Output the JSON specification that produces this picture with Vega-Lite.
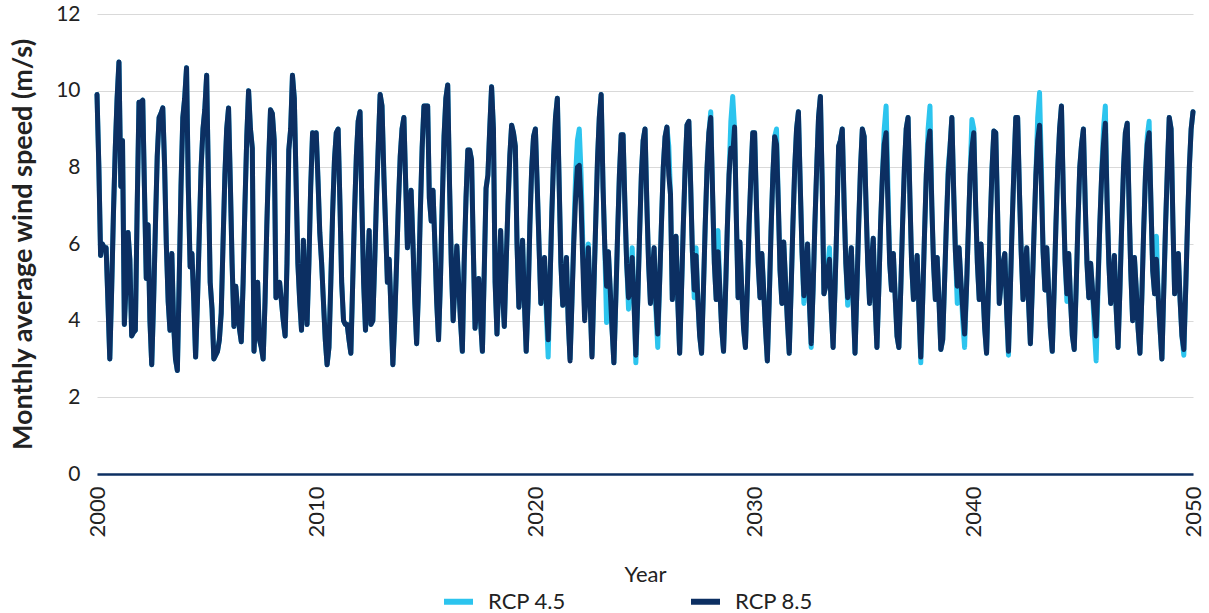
{
"$schema":"https://vega.github.io/schema/vega-lite/v6.json",
"width":1096,"height":460,
"autosize":{"type":"none"},
"padding":{"left":97,"top":14,"right":16,"bottom":139},
"background":"white",
"config":{"view":{"stroke":null},"font":"Lato"},
"data":{"values":[
{"date":"2000-01","rcp45":9.9,"rcp85":9.9},{"date":"2000-02","rcp45":8.0,"rcp85":8.0},{"date":"2000-03","rcp45":5.7,"rcp85":5.7},{"date":"2000-04","rcp45":6.0,"rcp85":6.0},{"date":"2000-05","rcp45":5.9,"rcp85":5.9},{"date":"2000-06","rcp45":5.9,"rcp85":5.9},{"date":"2000-07","rcp45":4.5,"rcp85":4.5},{"date":"2000-08","rcp45":3.0,"rcp85":3.0},{"date":"2000-09","rcp45":4.8,"rcp85":4.8},{"date":"2000-10","rcp45":6.8,"rcp85":6.8},{"date":"2000-11","rcp45":8.5,"rcp85":8.5},{"date":"2000-12","rcp45":9.8,"rcp85":9.8},
{"date":"2001-01","rcp45":10.75,"rcp85":10.75},{"date":"2001-02","rcp45":7.5,"rcp85":7.5},{"date":"2001-03","rcp45":8.7,"rcp85":8.7},{"date":"2001-04","rcp45":3.9,"rcp85":3.9},{"date":"2001-05","rcp45":5.0,"rcp85":5.0},{"date":"2001-06","rcp45":6.3,"rcp85":6.3},{"date":"2001-07","rcp45":5.6,"rcp85":5.6},{"date":"2001-08","rcp45":3.6,"rcp85":3.6},{"date":"2001-09","rcp45":3.7,"rcp85":3.7},{"date":"2001-10","rcp45":3.75,"rcp85":3.75},{"date":"2001-11","rcp45":7.0,"rcp85":7.0},{"date":"2001-12","rcp45":9.7,"rcp85":9.7},
{"date":"2002-01","rcp45":9.7,"rcp85":9.7},{"date":"2002-02","rcp45":9.75,"rcp85":9.75},{"date":"2002-03","rcp45":7.5,"rcp85":7.5},{"date":"2002-04","rcp45":5.1,"rcp85":5.1},{"date":"2002-05","rcp45":6.5,"rcp85":6.5},{"date":"2002-06","rcp45":4.0,"rcp85":4.0},{"date":"2002-07","rcp45":2.85,"rcp85":2.85},{"date":"2002-08","rcp45":4.5,"rcp85":4.5},{"date":"2002-09","rcp45":6.5,"rcp85":6.5},{"date":"2002-10","rcp45":8.3,"rcp85":8.3},{"date":"2002-11","rcp45":9.3,"rcp85":9.3},{"date":"2002-12","rcp45":9.4,"rcp85":9.4},
{"date":"2003-01","rcp45":9.55,"rcp85":9.55},{"date":"2003-02","rcp45":8.0,"rcp85":8.0},{"date":"2003-03","rcp45":6.0,"rcp85":6.0},{"date":"2003-04","rcp45":4.5,"rcp85":4.5},{"date":"2003-05","rcp45":3.75,"rcp85":3.75},{"date":"2003-06","rcp45":5.75,"rcp85":5.75},{"date":"2003-07","rcp45":3.9,"rcp85":3.9},{"date":"2003-08","rcp45":3.0,"rcp85":3.0},{"date":"2003-09","rcp45":2.7,"rcp85":2.7},{"date":"2003-10","rcp45":5.0,"rcp85":5.0},{"date":"2003-11","rcp45":7.5,"rcp85":7.5},{"date":"2003-12","rcp45":9.3,"rcp85":9.3},
{"date":"2004-01","rcp45":9.8,"rcp85":9.8},{"date":"2004-02","rcp45":10.6,"rcp85":10.6},{"date":"2004-03","rcp45":7.5,"rcp85":7.5},{"date":"2004-04","rcp45":5.4,"rcp85":5.4},{"date":"2004-05","rcp45":5.75,"rcp85":5.75},{"date":"2004-06","rcp45":4.5,"rcp85":4.5},{"date":"2004-07","rcp45":3.05,"rcp85":3.05},{"date":"2004-08","rcp45":4.5,"rcp85":4.5},{"date":"2004-09","rcp45":6.3,"rcp85":6.3},{"date":"2004-10","rcp45":8.0,"rcp85":8.0},{"date":"2004-11","rcp45":9.0,"rcp85":9.0},{"date":"2004-12","rcp45":9.5,"rcp85":9.5},
{"date":"2005-01","rcp45":10.4,"rcp85":10.4},{"date":"2005-02","rcp45":7.5,"rcp85":7.5},{"date":"2005-03","rcp45":5.0,"rcp85":5.0},{"date":"2005-04","rcp45":4.3,"rcp85":4.3},{"date":"2005-05","rcp45":3.0,"rcp85":3.0},{"date":"2005-06","rcp45":3.1,"rcp85":3.1},{"date":"2005-07","rcp45":3.2,"rcp85":3.2},{"date":"2005-08","rcp45":3.5,"rcp85":3.5},{"date":"2005-09","rcp45":4.2,"rcp85":4.2},{"date":"2005-10","rcp45":6.0,"rcp85":6.0},{"date":"2005-11","rcp45":7.8,"rcp85":7.8},{"date":"2005-12","rcp45":9.0,"rcp85":9.0},
{"date":"2006-01","rcp45":9.55,"rcp85":9.55},{"date":"2006-02","rcp45":7.5,"rcp85":7.5},{"date":"2006-03","rcp45":5.5,"rcp85":5.5},{"date":"2006-04","rcp45":3.85,"rcp85":3.85},{"date":"2006-05","rcp45":4.9,"rcp85":4.9},{"date":"2006-06","rcp45":4.3,"rcp85":4.3},{"date":"2006-07","rcp45":3.8,"rcp85":3.8},{"date":"2006-08","rcp45":3.45,"rcp85":3.45},{"date":"2006-09","rcp45":5.0,"rcp85":5.0},{"date":"2006-10","rcp45":7.0,"rcp85":7.0},{"date":"2006-11","rcp45":8.8,"rcp85":8.8},{"date":"2006-12","rcp45":10.0,"rcp85":10.0},
{"date":"2007-01","rcp45":9.0,"rcp85":9.0},{"date":"2007-02","rcp45":8.5,"rcp85":8.5},{"date":"2007-03","rcp45":3.2,"rcp85":3.2},{"date":"2007-04","rcp45":4.2,"rcp85":4.2},{"date":"2007-05","rcp45":5.0,"rcp85":5.0},{"date":"2007-06","rcp45":3.5,"rcp85":3.5},{"date":"2007-07","rcp45":3.3,"rcp85":3.3},{"date":"2007-08","rcp45":3.0,"rcp85":3.0},{"date":"2007-09","rcp45":4.5,"rcp85":4.5},{"date":"2007-10","rcp45":6.5,"rcp85":6.5},{"date":"2007-11","rcp45":8.2,"rcp85":8.2},{"date":"2007-12","rcp45":9.5,"rcp85":9.5},
{"date":"2008-01","rcp45":9.4,"rcp85":9.4},{"date":"2008-02","rcp45":8.7,"rcp85":8.7},{"date":"2008-03","rcp45":4.6,"rcp85":4.6},{"date":"2008-04","rcp45":4.8,"rcp85":4.8},{"date":"2008-05","rcp45":5.0,"rcp85":5.0},{"date":"2008-06","rcp45":4.5,"rcp85":4.5},{"date":"2008-07","rcp45":4.0,"rcp85":4.0},{"date":"2008-08","rcp45":3.6,"rcp85":3.6},{"date":"2008-09","rcp45":5.5,"rcp85":5.5},{"date":"2008-10","rcp45":8.45,"rcp85":8.45},{"date":"2008-11","rcp45":9.0,"rcp85":9.0},{"date":"2008-12","rcp45":10.4,"rcp85":10.4},
{"date":"2009-01","rcp45":9.8,"rcp85":9.8},{"date":"2009-02","rcp45":7.5,"rcp85":7.5},{"date":"2009-03","rcp45":5.5,"rcp85":5.5},{"date":"2009-04","rcp45":4.5,"rcp85":4.5},{"date":"2009-05","rcp45":3.75,"rcp85":3.75},{"date":"2009-06","rcp45":6.1,"rcp85":6.1},{"date":"2009-07","rcp45":4.8,"rcp85":4.8},{"date":"2009-08","rcp45":3.9,"rcp85":3.9},{"date":"2009-09","rcp45":5.5,"rcp85":5.5},{"date":"2009-10","rcp45":7.5,"rcp85":7.5},{"date":"2009-11","rcp45":8.9,"rcp85":8.9},{"date":"2009-12","rcp45":8.5,"rcp85":8.5},
{"date":"2010-01","rcp45":8.9,"rcp85":8.9},{"date":"2010-02","rcp45":7.6,"rcp85":7.6},{"date":"2010-03","rcp45":6.3,"rcp85":6.3},{"date":"2010-04","rcp45":5.5,"rcp85":5.5},{"date":"2010-05","rcp45":4.5,"rcp85":4.5},{"date":"2010-06","rcp45":3.5,"rcp85":3.5},{"date":"2010-07","rcp45":2.85,"rcp85":2.85},{"date":"2010-08","rcp45":3.3,"rcp85":3.3},{"date":"2010-09","rcp45":5.0,"rcp85":5.0},{"date":"2010-10","rcp45":6.8,"rcp85":6.8},{"date":"2010-11","rcp45":8.2,"rcp85":8.2},{"date":"2010-12","rcp45":8.9,"rcp85":8.9},
{"date":"2011-01","rcp45":9.0,"rcp85":9.0},{"date":"2011-02","rcp45":7.0,"rcp85":7.0},{"date":"2011-03","rcp45":5.0,"rcp85":5.0},{"date":"2011-04","rcp45":4.0,"rcp85":4.0},{"date":"2011-05","rcp45":3.9,"rcp85":3.9},{"date":"2011-06","rcp45":3.9,"rcp85":3.9},{"date":"2011-07","rcp45":3.5,"rcp85":3.5},{"date":"2011-08","rcp45":3.15,"rcp85":3.15},{"date":"2011-09","rcp45":5.0,"rcp85":5.0},{"date":"2011-10","rcp45":6.8,"rcp85":6.8},{"date":"2011-11","rcp45":8.3,"rcp85":8.3},{"date":"2011-12","rcp45":9.2,"rcp85":9.2},
{"date":"2012-01","rcp45":9.45,"rcp85":9.45},{"date":"2012-02","rcp45":7.0,"rcp85":7.0},{"date":"2012-03","rcp45":5.0,"rcp85":5.0},{"date":"2012-04","rcp45":3.75,"rcp85":3.75},{"date":"2012-05","rcp45":5.0,"rcp85":5.0},{"date":"2012-06","rcp45":6.35,"rcp85":6.35},{"date":"2012-07","rcp45":3.9,"rcp85":3.9},{"date":"2012-08","rcp45":4.0,"rcp85":4.0},{"date":"2012-09","rcp45":5.5,"rcp85":5.5},{"date":"2012-10","rcp45":7.2,"rcp85":7.2},{"date":"2012-11","rcp45":8.6,"rcp85":8.6},{"date":"2012-12","rcp45":9.9,"rcp85":9.9},
{"date":"2013-01","rcp45":9.6,"rcp85":9.6},{"date":"2013-02","rcp45":7.8,"rcp85":7.8},{"date":"2013-03","rcp45":6.5,"rcp85":6.5},{"date":"2013-04","rcp45":5.0,"rcp85":5.0},{"date":"2013-05","rcp45":5.6,"rcp85":5.6},{"date":"2013-06","rcp45":4.2,"rcp85":4.2},{"date":"2013-07","rcp45":2.85,"rcp85":2.85},{"date":"2013-08","rcp45":4.0,"rcp85":4.0},{"date":"2013-09","rcp45":5.5,"rcp85":5.5},{"date":"2013-10","rcp45":7.0,"rcp85":7.0},{"date":"2013-11","rcp45":8.3,"rcp85":8.3},{"date":"2013-12","rcp45":9.0,"rcp85":9.0},
{"date":"2014-01","rcp45":9.3,"rcp85":9.3},{"date":"2014-02","rcp45":7.5,"rcp85":7.5},{"date":"2014-03","rcp45":5.9,"rcp85":5.9},{"date":"2014-04","rcp45":6.5,"rcp85":6.5},{"date":"2014-05","rcp45":7.4,"rcp85":7.4},{"date":"2014-06","rcp45":6.0,"rcp85":6.0},{"date":"2014-07","rcp45":4.5,"rcp85":4.5},{"date":"2014-08","rcp45":3.4,"rcp85":3.4},{"date":"2014-09","rcp45":4.8,"rcp85":4.8},{"date":"2014-10","rcp45":6.8,"rcp85":6.8},{"date":"2014-11","rcp45":8.5,"rcp85":8.5},{"date":"2014-12","rcp45":9.6,"rcp85":9.6},
{"date":"2015-01","rcp45":9.6,"rcp85":9.6},{"date":"2015-02","rcp45":9.6,"rcp85":9.6},{"date":"2015-03","rcp45":7.2,"rcp85":7.2},{"date":"2015-04","rcp45":6.6,"rcp85":6.6},{"date":"2015-05","rcp45":7.4,"rcp85":7.4},{"date":"2015-06","rcp45":6.0,"rcp85":6.0},{"date":"2015-07","rcp45":4.5,"rcp85":4.5},{"date":"2015-08","rcp45":3.5,"rcp85":3.5},{"date":"2015-09","rcp45":5.0,"rcp85":5.0},{"date":"2015-10","rcp45":7.0,"rcp85":7.0},{"date":"2015-11","rcp45":8.8,"rcp85":8.8},{"date":"2015-12","rcp45":9.8,"rcp85":9.8},
{"date":"2016-01","rcp45":10.15,"rcp85":10.15},{"date":"2016-02","rcp45":7.5,"rcp85":7.5},{"date":"2016-03","rcp45":5.5,"rcp85":5.5},{"date":"2016-04","rcp45":4.0,"rcp85":4.0},{"date":"2016-05","rcp45":5.0,"rcp85":5.0},{"date":"2016-06","rcp45":5.95,"rcp85":5.95},{"date":"2016-07","rcp45":5.0,"rcp85":5.0},{"date":"2016-08","rcp45":4.0,"rcp85":4.0},{"date":"2016-09","rcp45":3.2,"rcp85":3.2},{"date":"2016-10","rcp45":5.5,"rcp85":5.5},{"date":"2016-11","rcp45":7.2,"rcp85":7.2},{"date":"2016-12","rcp45":8.45,"rcp85":8.45},
{"date":"2017-01","rcp45":8.45,"rcp85":8.45},{"date":"2017-02","rcp45":8.2,"rcp85":8.2},{"date":"2017-03","rcp45":6.0,"rcp85":6.0},{"date":"2017-04","rcp45":3.8,"rcp85":3.8},{"date":"2017-05","rcp45":4.5,"rcp85":4.5},{"date":"2017-06","rcp45":5.1,"rcp85":5.1},{"date":"2017-07","rcp45":4.0,"rcp85":4.0},{"date":"2017-08","rcp45":3.2,"rcp85":3.2},{"date":"2017-09","rcp45":5.3,"rcp85":5.3},{"date":"2017-10","rcp45":7.45,"rcp85":7.45},{"date":"2017-11","rcp45":7.8,"rcp85":7.8},{"date":"2017-12","rcp45":9.0,"rcp85":9.0},
{"date":"2018-01","rcp45":10.1,"rcp85":10.1},{"date":"2018-02","rcp45":9.0,"rcp85":9.0},{"date":"2018-03","rcp45":5.0,"rcp85":5.0},{"date":"2018-04","rcp45":3.65,"rcp85":3.65},{"date":"2018-05","rcp45":5.0,"rcp85":5.0},{"date":"2018-06","rcp45":6.35,"rcp85":6.35},{"date":"2018-07","rcp45":4.8,"rcp85":4.8},{"date":"2018-08","rcp45":3.85,"rcp85":3.85},{"date":"2018-09","rcp45":5.5,"rcp85":5.5},{"date":"2018-10","rcp45":7.0,"rcp85":7.0},{"date":"2018-11","rcp45":8.3,"rcp85":8.3},{"date":"2018-12","rcp45":9.1,"rcp85":9.1},
{"date":"2019-01","rcp45":8.9,"rcp85":8.9},{"date":"2019-02","rcp45":8.55,"rcp85":8.55},{"date":"2019-03","rcp45":6.0,"rcp85":6.0},{"date":"2019-04","rcp45":4.35,"rcp85":4.35},{"date":"2019-05","rcp45":5.2,"rcp85":5.2},{"date":"2019-06","rcp45":6.1,"rcp85":6.1},{"date":"2019-07","rcp45":4.5,"rcp85":4.5},{"date":"2019-08","rcp45":3.2,"rcp85":3.2},{"date":"2019-09","rcp45":4.5,"rcp85":4.5},{"date":"2019-10","rcp45":6.5,"rcp85":6.5},{"date":"2019-11","rcp45":8.0,"rcp85":8.0},{"date":"2019-12","rcp45":8.8,"rcp85":8.8},
{"date":"2020-01","rcp45":9.0,"rcp85":9.0},{"date":"2020-02","rcp45":7.5,"rcp85":7.5},{"date":"2020-03","rcp45":6.0,"rcp85":6.0},{"date":"2020-04","rcp45":4.45,"rcp85":4.45},{"date":"2020-05","rcp45":5.0,"rcp85":5.0},{"date":"2020-06","rcp45":5.65,"rcp85":5.65},{"date":"2020-07","rcp45":4.2,"rcp85":4.5},{"date":"2020-08","rcp45":3.05,"rcp85":3.5},{"date":"2020-09","rcp45":5.0,"rcp85":5.0},{"date":"2020-10","rcp45":6.8,"rcp85":6.8},{"date":"2020-11","rcp45":8.3,"rcp85":8.3},{"date":"2020-12","rcp45":9.3,"rcp85":9.3},
{"date":"2021-01","rcp45":9.8,"rcp85":9.8},{"date":"2021-02","rcp45":7.5,"rcp85":7.5},{"date":"2021-03","rcp45":5.5,"rcp85":5.5},{"date":"2021-04","rcp45":4.4,"rcp85":4.4},{"date":"2021-05","rcp45":5.0,"rcp85":5.0},{"date":"2021-06","rcp45":5.65,"rcp85":5.65},{"date":"2021-07","rcp45":4.0,"rcp85":4.0},{"date":"2021-08","rcp45":3.0,"rcp85":2.95},{"date":"2021-09","rcp45":4.5,"rcp85":4.5},{"date":"2021-10","rcp45":6.2,"rcp85":6.0},{"date":"2021-11","rcp45":7.8,"rcp85":7.2},{"date":"2021-12","rcp45":8.7,"rcp85":8.0},
{"date":"2022-01","rcp45":9.0,"rcp85":8.05},{"date":"2022-02","rcp45":7.8,"rcp85":7.0},{"date":"2022-03","rcp45":6.0,"rcp85":5.5},{"date":"2022-04","rcp45":4.2,"rcp85":4.0},{"date":"2022-05","rcp45":5.2,"rcp85":5.0},{"date":"2022-06","rcp45":6.0,"rcp85":5.9},{"date":"2022-07","rcp45":4.5,"rcp85":4.5},{"date":"2022-08","rcp45":3.1,"rcp85":3.05},{"date":"2022-09","rcp45":4.8,"rcp85":4.8},{"date":"2022-10","rcp45":6.5,"rcp85":6.5},{"date":"2022-11","rcp45":8.2,"rcp85":8.2},{"date":"2022-12","rcp45":9.3,"rcp85":9.3},
{"date":"2023-01","rcp45":9.9,"rcp85":9.9},{"date":"2023-02","rcp45":7.5,"rcp85":7.5},{"date":"2023-03","rcp45":6.0,"rcp85":6.0},{"date":"2023-04","rcp45":3.95,"rcp85":4.9},{"date":"2023-05","rcp45":5.8,"rcp85":5.8},{"date":"2023-06","rcp45":4.8,"rcp85":4.8},{"date":"2023-07","rcp45":3.8,"rcp85":3.8},{"date":"2023-08","rcp45":2.9,"rcp85":2.9},{"date":"2023-09","rcp45":4.5,"rcp85":4.5},{"date":"2023-10","rcp45":6.2,"rcp85":6.2},{"date":"2023-11","rcp45":7.8,"rcp85":7.8},{"date":"2023-12","rcp45":8.85,"rcp85":8.85},
{"date":"2024-01","rcp45":8.85,"rcp85":8.85},{"date":"2024-02","rcp45":7.0,"rcp85":7.0},{"date":"2024-03","rcp45":5.5,"rcp85":5.5},{"date":"2024-04","rcp45":4.3,"rcp85":4.6},{"date":"2024-05","rcp45":4.9,"rcp85":4.9},{"date":"2024-06","rcp45":5.9,"rcp85":5.65},{"date":"2024-07","rcp45":4.5,"rcp85":4.5},{"date":"2024-08","rcp45":2.9,"rcp85":3.1},{"date":"2024-09","rcp45":4.5,"rcp85":4.5},{"date":"2024-10","rcp45":6.2,"rcp85":6.2},{"date":"2024-11","rcp45":7.8,"rcp85":7.8},{"date":"2024-12","rcp45":8.7,"rcp85":8.7},
{"date":"2025-01","rcp45":9.0,"rcp85":9.0},{"date":"2025-02","rcp45":7.0,"rcp85":7.0},{"date":"2025-03","rcp45":5.5,"rcp85":5.5},{"date":"2025-04","rcp45":4.45,"rcp85":4.45},{"date":"2025-05","rcp45":5.2,"rcp85":5.2},{"date":"2025-06","rcp45":5.9,"rcp85":5.9},{"date":"2025-07","rcp45":4.3,"rcp85":4.5},{"date":"2025-08","rcp45":3.3,"rcp85":3.65},{"date":"2025-09","rcp45":5.0,"rcp85":5.0},{"date":"2025-10","rcp45":6.5,"rcp85":6.5},{"date":"2025-11","rcp45":8.0,"rcp85":8.0},{"date":"2025-12","rcp45":8.8,"rcp85":8.8},
{"date":"2026-01","rcp45":9.05,"rcp85":9.05},{"date":"2026-02","rcp45":8.55,"rcp85":7.8},{"date":"2026-03","rcp45":7.3,"rcp85":7.3},{"date":"2026-04","rcp45":4.55,"rcp85":4.55},{"date":"2026-05","rcp45":5.5,"rcp85":5.5},{"date":"2026-06","rcp45":6.2,"rcp85":6.2},{"date":"2026-07","rcp45":4.5,"rcp85":4.5},{"date":"2026-08","rcp45":3.15,"rcp85":3.15},{"date":"2026-09","rcp45":4.8,"rcp85":4.8},{"date":"2026-10","rcp45":6.5,"rcp85":6.5},{"date":"2026-11","rcp45":8.0,"rcp85":8.0},{"date":"2026-12","rcp45":9.1,"rcp85":9.1},
{"date":"2027-01","rcp45":9.2,"rcp85":9.2},{"date":"2027-02","rcp45":7.5,"rcp85":7.5},{"date":"2027-03","rcp45":5.8,"rcp85":5.8},{"date":"2027-04","rcp45":4.6,"rcp85":4.8},{"date":"2027-05","rcp45":5.9,"rcp85":5.7},{"date":"2027-06","rcp45":4.5,"rcp85":4.5},{"date":"2027-07","rcp45":3.6,"rcp85":3.6},{"date":"2027-08","rcp45":3.15,"rcp85":3.15},{"date":"2027-09","rcp45":4.8,"rcp85":4.8},{"date":"2027-10","rcp45":6.5,"rcp85":6.5},{"date":"2027-11","rcp45":8.0,"rcp85":8.0},{"date":"2027-12","rcp45":8.9,"rcp85":8.9},
{"date":"2028-01","rcp45":9.45,"rcp85":9.3},{"date":"2028-02","rcp45":7.3,"rcp85":7.3},{"date":"2028-03","rcp45":5.5,"rcp85":5.5},{"date":"2028-04","rcp45":4.55,"rcp85":4.55},{"date":"2028-05","rcp45":6.35,"rcp85":5.8},{"date":"2028-06","rcp45":4.8,"rcp85":4.8},{"date":"2028-07","rcp45":3.8,"rcp85":3.8},{"date":"2028-08","rcp45":3.2,"rcp85":3.2},{"date":"2028-09","rcp45":4.6,"rcp85":4.6},{"date":"2028-10","rcp45":6.3,"rcp85":6.3},{"date":"2028-11","rcp45":7.8,"rcp85":7.8},{"date":"2028-12","rcp45":9.2,"rcp85":8.5},
{"date":"2029-01","rcp45":9.85,"rcp85":8.3},{"date":"2029-02","rcp45":9.0,"rcp85":9.05},{"date":"2029-03","rcp45":6.8,"rcp85":6.8},{"date":"2029-04","rcp45":4.6,"rcp85":4.6},{"date":"2029-05","rcp45":6.05,"rcp85":6.05},{"date":"2029-06","rcp45":4.8,"rcp85":4.8},{"date":"2029-07","rcp45":3.8,"rcp85":3.8},{"date":"2029-08","rcp45":3.3,"rcp85":3.3},{"date":"2029-09","rcp45":4.8,"rcp85":4.8},{"date":"2029-10","rcp45":6.5,"rcp85":6.5},{"date":"2029-11","rcp45":7.8,"rcp85":7.8},{"date":"2029-12","rcp45":8.9,"rcp85":8.9},
{"date":"2030-01","rcp45":8.9,"rcp85":8.9},{"date":"2030-02","rcp45":7.0,"rcp85":7.0},{"date":"2030-03","rcp45":5.5,"rcp85":5.5},{"date":"2030-04","rcp45":4.6,"rcp85":4.6},{"date":"2030-05","rcp45":5.75,"rcp85":5.75},{"date":"2030-06","rcp45":4.8,"rcp85":4.8},{"date":"2030-07","rcp45":3.8,"rcp85":3.8},{"date":"2030-08","rcp45":2.95,"rcp85":2.95},{"date":"2030-09","rcp45":4.5,"rcp85":4.5},{"date":"2030-10","rcp45":6.3,"rcp85":6.3},{"date":"2030-11","rcp45":7.8,"rcp85":7.8},{"date":"2030-12","rcp45":8.8,"rcp85":8.8},
{"date":"2031-01","rcp45":9.0,"rcp85":8.6},{"date":"2031-02","rcp45":7.0,"rcp85":7.0},{"date":"2031-03","rcp45":5.3,"rcp85":5.3},{"date":"2031-04","rcp45":4.45,"rcp85":4.45},{"date":"2031-05","rcp45":6.05,"rcp85":6.05},{"date":"2031-06","rcp45":5.0,"rcp85":5.0},{"date":"2031-07","rcp45":4.0,"rcp85":4.0},{"date":"2031-08","rcp45":3.15,"rcp85":3.15},{"date":"2031-09","rcp45":4.8,"rcp85":4.8},{"date":"2031-10","rcp45":6.5,"rcp85":6.5},{"date":"2031-11","rcp45":8.0,"rcp85":8.0},{"date":"2031-12","rcp45":9.0,"rcp85":9.0},
{"date":"2032-01","rcp45":9.45,"rcp85":9.45},{"date":"2032-02","rcp45":7.5,"rcp85":7.5},{"date":"2032-03","rcp45":5.8,"rcp85":5.8},{"date":"2032-04","rcp45":4.45,"rcp85":4.65},{"date":"2032-05","rcp45":5.3,"rcp85":5.3},{"date":"2032-06","rcp45":6.0,"rcp85":6.0},{"date":"2032-07","rcp45":4.5,"rcp85":4.5},{"date":"2032-08","rcp45":3.3,"rcp85":3.4},{"date":"2032-09","rcp45":4.8,"rcp85":4.8},{"date":"2032-10","rcp45":6.5,"rcp85":6.5},{"date":"2032-11","rcp45":8.0,"rcp85":8.0},{"date":"2032-12","rcp45":9.3,"rcp85":9.3},
{"date":"2033-01","rcp45":9.85,"rcp85":9.85},{"date":"2033-02","rcp45":7.5,"rcp85":7.5},{"date":"2033-03","rcp45":4.7,"rcp85":4.7},{"date":"2033-04","rcp45":4.9,"rcp85":4.9},{"date":"2033-05","rcp45":5.3,"rcp85":5.3},{"date":"2033-06","rcp45":5.9,"rcp85":5.6},{"date":"2033-07","rcp45":4.3,"rcp85":4.3},{"date":"2033-08","rcp45":3.3,"rcp85":3.3},{"date":"2033-09","rcp45":4.8,"rcp85":4.8},{"date":"2033-10","rcp45":6.5,"rcp85":6.5},{"date":"2033-11","rcp45":8.55,"rcp85":8.55},{"date":"2033-12","rcp45":8.7,"rcp85":8.7},
{"date":"2034-01","rcp45":9.0,"rcp85":9.0},{"date":"2034-02","rcp45":7.0,"rcp85":7.0},{"date":"2034-03","rcp45":5.5,"rcp85":5.5},{"date":"2034-04","rcp45":4.4,"rcp85":4.6},{"date":"2034-05","rcp45":5.3,"rcp85":5.3},{"date":"2034-06","rcp45":5.9,"rcp85":5.9},{"date":"2034-07","rcp45":4.5,"rcp85":4.5},{"date":"2034-08","rcp45":3.15,"rcp85":3.15},{"date":"2034-09","rcp45":4.8,"rcp85":4.8},{"date":"2034-10","rcp45":6.5,"rcp85":6.5},{"date":"2034-11","rcp45":8.0,"rcp85":8.0},{"date":"2034-12","rcp45":9.0,"rcp85":9.0},
{"date":"2035-01","rcp45":8.8,"rcp85":8.8},{"date":"2035-02","rcp45":7.0,"rcp85":7.0},{"date":"2035-03","rcp45":5.5,"rcp85":5.5},{"date":"2035-04","rcp45":4.45,"rcp85":4.45},{"date":"2035-05","rcp45":5.5,"rcp85":5.5},{"date":"2035-06","rcp45":6.15,"rcp85":6.15},{"date":"2035-07","rcp45":4.5,"rcp85":4.5},{"date":"2035-08","rcp45":3.3,"rcp85":3.3},{"date":"2035-09","rcp45":4.8,"rcp85":4.8},{"date":"2035-10","rcp45":6.5,"rcp85":6.5},{"date":"2035-11","rcp45":7.8,"rcp85":7.8},{"date":"2035-12","rcp45":9.0,"rcp85":8.6},
{"date":"2036-01","rcp45":9.6,"rcp85":8.9},{"date":"2036-02","rcp45":7.5,"rcp85":7.0},{"date":"2036-03","rcp45":5.5,"rcp85":5.5},{"date":"2036-04","rcp45":4.8,"rcp85":4.8},{"date":"2036-05","rcp45":5.75,"rcp85":5.75},{"date":"2036-06","rcp45":4.6,"rcp85":4.6},{"date":"2036-07","rcp45":3.6,"rcp85":3.6},{"date":"2036-08","rcp45":3.3,"rcp85":3.3},{"date":"2036-09","rcp45":4.8,"rcp85":4.8},{"date":"2036-10","rcp45":6.5,"rcp85":6.5},{"date":"2036-11","rcp45":8.0,"rcp85":8.0},{"date":"2036-12","rcp45":9.0,"rcp85":9.0},
{"date":"2037-01","rcp45":9.3,"rcp85":9.3},{"date":"2037-02","rcp45":7.2,"rcp85":7.2},{"date":"2037-03","rcp45":5.5,"rcp85":5.5},{"date":"2037-04","rcp45":4.55,"rcp85":4.55},{"date":"2037-05","rcp45":5.0,"rcp85":5.0},{"date":"2037-06","rcp45":5.7,"rcp85":5.7},{"date":"2037-07","rcp45":4.3,"rcp85":4.3},{"date":"2037-08","rcp45":2.9,"rcp85":3.05},{"date":"2037-09","rcp45":4.5,"rcp85":4.5},{"date":"2037-10","rcp45":6.2,"rcp85":6.2},{"date":"2037-11","rcp45":7.8,"rcp85":7.8},{"date":"2037-12","rcp45":9.0,"rcp85":8.6},
{"date":"2038-01","rcp45":9.6,"rcp85":8.95},{"date":"2038-02","rcp45":7.0,"rcp85":7.0},{"date":"2038-03","rcp45":5.5,"rcp85":5.5},{"date":"2038-04","rcp45":4.55,"rcp85":4.55},{"date":"2038-05","rcp45":5.65,"rcp85":5.65},{"date":"2038-06","rcp45":4.5,"rcp85":4.5},{"date":"2038-07","rcp45":3.25,"rcp85":3.25},{"date":"2038-08","rcp45":3.5,"rcp85":3.5},{"date":"2038-09","rcp45":5.0,"rcp85":5.0},{"date":"2038-10","rcp45":6.5,"rcp85":6.5},{"date":"2038-11","rcp45":8.0,"rcp85":7.8},{"date":"2038-12","rcp45":8.55,"rcp85":8.5},
{"date":"2039-01","rcp45":9.3,"rcp85":9.3},{"date":"2039-02","rcp45":7.3,"rcp85":7.3},{"date":"2039-03","rcp45":5.8,"rcp85":5.8},{"date":"2039-04","rcp45":4.45,"rcp85":4.9},{"date":"2039-05","rcp45":5.9,"rcp85":5.9},{"date":"2039-06","rcp45":5.0,"rcp85":5.0},{"date":"2039-07","rcp45":4.0,"rcp85":4.3},{"date":"2039-08","rcp45":3.3,"rcp85":3.65},{"date":"2039-09","rcp45":4.8,"rcp85":4.8},{"date":"2039-10","rcp45":6.3,"rcp85":6.3},{"date":"2039-11","rcp45":7.8,"rcp85":7.8},{"date":"2039-12","rcp45":9.25,"rcp85":8.5},
{"date":"2040-01","rcp45":9.0,"rcp85":8.9},{"date":"2040-02","rcp45":7.0,"rcp85":7.0},{"date":"2040-03","rcp45":5.5,"rcp85":5.5},{"date":"2040-04","rcp45":4.55,"rcp85":4.55},{"date":"2040-05","rcp45":6.0,"rcp85":6.0},{"date":"2040-06","rcp45":4.8,"rcp85":4.8},{"date":"2040-07","rcp45":3.8,"rcp85":3.8},{"date":"2040-08","rcp45":3.15,"rcp85":3.15},{"date":"2040-09","rcp45":4.8,"rcp85":4.8},{"date":"2040-10","rcp45":6.5,"rcp85":6.5},{"date":"2040-11","rcp45":8.0,"rcp85":8.0},{"date":"2040-12","rcp45":8.95,"rcp85":8.95},
{"date":"2041-01","rcp45":8.9,"rcp85":8.9},{"date":"2041-02","rcp45":6.8,"rcp85":6.8},{"date":"2041-03","rcp45":4.45,"rcp85":4.45},{"date":"2041-04","rcp45":5.0,"rcp85":5.0},{"date":"2041-05","rcp45":5.5,"rcp85":5.5},{"date":"2041-06","rcp45":5.75,"rcp85":5.75},{"date":"2041-07","rcp45":4.3,"rcp85":4.3},{"date":"2041-08","rcp45":3.1,"rcp85":3.2},{"date":"2041-09","rcp45":4.8,"rcp85":4.8},{"date":"2041-10","rcp45":6.5,"rcp85":6.5},{"date":"2041-11","rcp45":8.0,"rcp85":8.0},{"date":"2041-12","rcp45":9.3,"rcp85":9.3},
{"date":"2042-01","rcp45":9.3,"rcp85":9.3},{"date":"2042-02","rcp45":7.3,"rcp85":7.3},{"date":"2042-03","rcp45":5.8,"rcp85":5.8},{"date":"2042-04","rcp45":4.55,"rcp85":4.55},{"date":"2042-05","rcp45":5.2,"rcp85":5.2},{"date":"2042-06","rcp45":5.9,"rcp85":5.9},{"date":"2042-07","rcp45":4.5,"rcp85":4.5},{"date":"2042-08","rcp45":3.4,"rcp85":3.4},{"date":"2042-09","rcp45":4.8,"rcp85":4.8},{"date":"2042-10","rcp45":6.3,"rcp85":6.3},{"date":"2042-11","rcp45":7.8,"rcp85":7.8},{"date":"2042-12","rcp45":9.3,"rcp85":8.7},
{"date":"2043-01","rcp45":9.95,"rcp85":9.1},{"date":"2043-02","rcp45":8.0,"rcp85":7.5},{"date":"2043-03","rcp45":5.8,"rcp85":5.8},{"date":"2043-04","rcp45":4.8,"rcp85":4.8},{"date":"2043-05","rcp45":5.9,"rcp85":5.9},{"date":"2043-06","rcp45":4.8,"rcp85":4.8},{"date":"2043-07","rcp45":3.8,"rcp85":3.8},{"date":"2043-08","rcp45":3.2,"rcp85":3.2},{"date":"2043-09","rcp45":4.8,"rcp85":4.8},{"date":"2043-10","rcp45":6.5,"rcp85":6.5},{"date":"2043-11","rcp45":8.0,"rcp85":8.0},{"date":"2043-12","rcp45":9.0,"rcp85":9.0},
{"date":"2044-01","rcp45":9.6,"rcp85":9.6},{"date":"2044-02","rcp45":7.3,"rcp85":7.3},{"date":"2044-03","rcp45":5.6,"rcp85":5.6},{"date":"2044-04","rcp45":4.5,"rcp85":4.7},{"date":"2044-05","rcp45":5.75,"rcp85":5.75},{"date":"2044-06","rcp45":4.5,"rcp85":4.5},{"date":"2044-07","rcp45":3.6,"rcp85":3.6},{"date":"2044-08","rcp45":3.25,"rcp85":3.25},{"date":"2044-09","rcp45":4.8,"rcp85":4.8},{"date":"2044-10","rcp45":6.5,"rcp85":6.5},{"date":"2044-11","rcp45":8.0,"rcp85":8.0},{"date":"2044-12","rcp45":8.6,"rcp85":8.6},
{"date":"2045-01","rcp45":9.0,"rcp85":9.0},{"date":"2045-02","rcp45":7.0,"rcp85":7.0},{"date":"2045-03","rcp45":5.5,"rcp85":5.5},{"date":"2045-04","rcp45":4.6,"rcp85":4.6},{"date":"2045-05","rcp45":5.5,"rcp85":5.5},{"date":"2045-06","rcp45":4.8,"rcp85":4.8},{"date":"2045-07","rcp45":3.8,"rcp85":4.2},{"date":"2045-08","rcp45":2.95,"rcp85":3.6},{"date":"2045-09","rcp45":4.8,"rcp85":5.0},{"date":"2045-10","rcp45":6.5,"rcp85":6.5},{"date":"2045-11","rcp45":7.8,"rcp85":7.8},{"date":"2045-12","rcp45":9.0,"rcp85":8.6},
{"date":"2046-01","rcp45":9.6,"rcp85":9.15},{"date":"2046-02","rcp45":7.0,"rcp85":7.0},{"date":"2046-03","rcp45":5.5,"rcp85":5.5},{"date":"2046-04","rcp45":4.45,"rcp85":4.45},{"date":"2046-05","rcp45":5.0,"rcp85":5.0},{"date":"2046-06","rcp45":5.7,"rcp85":5.7},{"date":"2046-07","rcp45":4.3,"rcp85":4.3},{"date":"2046-08","rcp45":3.3,"rcp85":3.3},{"date":"2046-09","rcp45":4.8,"rcp85":4.8},{"date":"2046-10","rcp45":6.5,"rcp85":6.5},{"date":"2046-11","rcp45":8.0,"rcp85":8.0},{"date":"2046-12","rcp45":8.9,"rcp85":8.9},
{"date":"2047-01","rcp45":9.15,"rcp85":9.15},{"date":"2047-02","rcp45":7.0,"rcp85":7.0},{"date":"2047-03","rcp45":5.3,"rcp85":5.3},{"date":"2047-04","rcp45":4.0,"rcp85":4.0},{"date":"2047-05","rcp45":5.65,"rcp85":5.65},{"date":"2047-06","rcp45":4.8,"rcp85":4.8},{"date":"2047-07","rcp45":3.8,"rcp85":3.8},{"date":"2047-08","rcp45":3.15,"rcp85":3.15},{"date":"2047-09","rcp45":4.6,"rcp85":4.6},{"date":"2047-10","rcp45":6.3,"rcp85":6.3},{"date":"2047-11","rcp45":7.8,"rcp85":7.8},{"date":"2047-12","rcp45":8.8,"rcp85":8.6},
{"date":"2048-01","rcp45":9.2,"rcp85":8.9},{"date":"2048-02","rcp45":7.0,"rcp85":7.0},{"date":"2048-03","rcp45":5.3,"rcp85":5.3},{"date":"2048-04","rcp45":4.7,"rcp85":4.7},{"date":"2048-05","rcp45":6.2,"rcp85":5.6},{"date":"2048-06","rcp45":4.6,"rcp85":4.6},{"date":"2048-07","rcp45":3.8,"rcp85":3.8},{"date":"2048-08","rcp45":3.0,"rcp85":3.0},{"date":"2048-09","rcp45":4.8,"rcp85":4.8},{"date":"2048-10","rcp45":6.5,"rcp85":6.5},{"date":"2048-11","rcp45":8.0,"rcp85":8.0},{"date":"2048-12","rcp45":9.3,"rcp85":9.3},
{"date":"2049-01","rcp45":9.0,"rcp85":9.0},{"date":"2049-02","rcp45":6.5,"rcp85":6.5},{"date":"2049-03","rcp45":4.7,"rcp85":4.7},{"date":"2049-04","rcp45":5.2,"rcp85":5.2},{"date":"2049-05","rcp45":5.75,"rcp85":5.75},{"date":"2049-06","rcp45":4.5,"rcp85":4.5},{"date":"2049-07","rcp45":3.6,"rcp85":3.6},{"date":"2049-08","rcp45":3.1,"rcp85":3.25},{"date":"2049-09","rcp45":4.8,"rcp85":4.8},{"date":"2049-10","rcp45":6.5,"rcp85":6.5},{"date":"2049-11","rcp45":8.0,"rcp85":8.0},{"date":"2049-12","rcp45":9.0,"rcp85":9.0},
{"date":"2050-01","rcp45":9.45,"rcp85":9.45}
]},
"transform":[{"fold":["rcp45","rcp85"],"as":["series","speed"]}],
"mark":{"type":"line","strokeWidth":5,"strokeJoin":"round","strokeCap":"round"},
"encoding":{
"x":{"field":"date","type":"temporal",
"scale":{"domain":[{"year":2000,"month":1,"date":1},{"year":2050,"month":1,"date":1}]},
"axis":{"values":[{"year":2000,"month":1,"date":1},{"year":2010,"month":1,"date":1},{"year":2020,"month":1,"date":1},{"year":2030,"month":1,"date":1},{"year":2040,"month":1,"date":1},{"year":2050,"month":1,"date":1}],
"format":"%Y","labelAngle":-90,"labelFontSize":22,"labelColor":"#222222","labelPadding":12,"ticks":false,"grid":false,
"domainColor":"#0c2f62","domainWidth":2.5,"title":"Year","titleFontSize":22,"titleFontWeight":"normal","titleColor":"#222222","titlePadding":27,"labelOverlap":false,"labelFlush":false}},
"y":{"field":"speed","type":"quantitative","scale":{"domain":[0,12]},
"axis":{"values":[0,2,4,6,8,10,12],"labelFontSize":21,"labelColor":"#222222","labelPadding":17,"ticks":false,"domain":false,
"gridColor":"#d9d9d9","gridWidth":1,"title":"Monthly average wind speed (m/s)","titleFontSize":27,"titleFontWeight":"bold","titleColor":"#222222","titlePadding":18}},
"color":{"field":"series","type":"nominal","scale":{"domain":["rcp45","rcp85"],"range":["#2cc4ee","#0c2f62"]},
"legend":{"title":null,"orient":"none","legendX":344,"legendY":570,"direction":"horizontal","symbolType":"stroke","symbolSize":841,"symbolStrokeWidth":6,
"labelFontSize":22,"labelColor":"#222222","labelOffset":12,"columnPadding":113,"padding":0,
"labelExpr":"datum.label == 'rcp45' ? 'RCP 4.5' : 'RCP 8.5'"}}
}
}
